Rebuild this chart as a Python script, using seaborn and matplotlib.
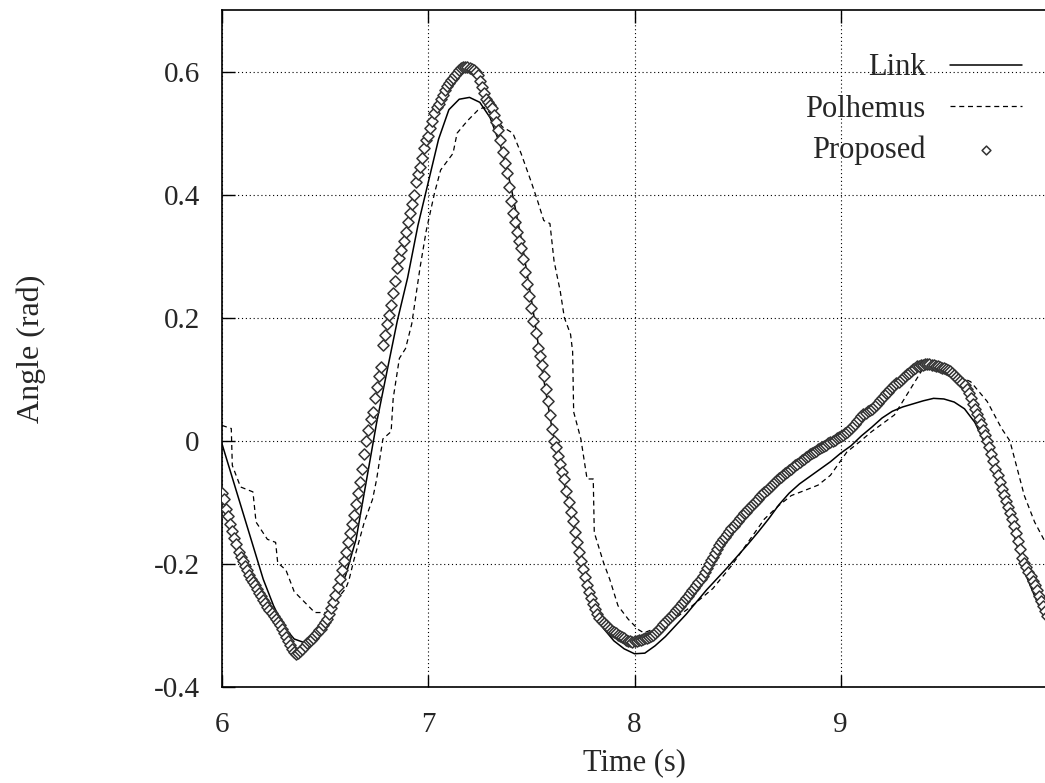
import numpy as np
import pandas as pd
import matplotlib
matplotlib.use("Agg")
import matplotlib.pyplot as plt
import seaborn as sns

# ── Data ─────────────────────────────────────────────────────────────────────
T0 = 6.0

# Link angle, sampled every 0.05 s from 6.00 to 10.00
LINK_DT = 0.05
link_angle = [
    -0.005, -0.06, -0.115, -0.17, -0.225, -0.268, -0.302, -0.322, -0.328, -0.32,
    -0.293, -0.258, -0.218, -0.16, -0.065, 0.03, 0.113, 0.195, 0.265, 0.35,
    0.42, 0.49, 0.538, 0.555, 0.558, 0.55, 0.525, 0.48, 0.415, 0.33,
    0.23, 0.12, 0.02, -0.055, -0.13, -0.205, -0.274, -0.305, -0.325, -0.338,
    -0.346, -0.345, -0.333, -0.318, -0.30, -0.282, -0.262, -0.242, -0.224, -0.206,
    -0.187, -0.168, -0.148, -0.127, -0.104, -0.085, -0.07, -0.058, -0.046, -0.034,
    -0.02, -0.008, 0.008, 0.022, 0.037, 0.048, 0.055, 0.06, 0.065, 0.069,
    0.068, 0.063, 0.052, 0.03, -0.005, -0.045, -0.1, -0.165, -0.22, -0.26,
    -0.295,
]

# Polhemus sensor trace (held values with jumps), vertex by vertex
polhemus_t = [
    6.00, 6.045, 6.05, 6.09, 6.15, 6.165, 6.22, 6.26, 6.27, 6.31,
    6.35, 6.40, 6.45, 6.51, 6.55, 6.60, 6.615, 6.64, 6.69, 6.73,
    6.75, 6.78, 6.82, 6.83, 6.86, 6.89, 6.92, 6.96, 6.99, 7.03,
    7.06, 7.12, 7.14, 7.19, 7.24, 7.27, 7.32, 7.36, 7.41, 7.45,
    7.50, 7.53, 7.56, 7.59, 7.61, 7.64, 7.66, 7.69, 7.70, 7.705,
    7.74, 7.77, 7.80, 7.805, 7.85, 7.88, 7.92, 7.97, 8.02, 8.045,
    8.10, 8.19, 8.28, 8.38, 8.47, 8.55, 8.63, 8.70, 8.76, 8.83,
    8.89, 8.95, 9.03, 9.09, 9.15, 9.26, 9.33, 9.40, 9.46, 9.52,
    9.63, 9.71, 9.78, 9.82, 9.89, 9.94, 10.0,
]
polhemus_angle = [
    0.025, 0.02, -0.04, -0.075, -0.083, -0.132, -0.16, -0.165, -0.198, -0.21,
    -0.245, -0.262, -0.279, -0.279, -0.26, -0.24, -0.227, -0.193, -0.132, -0.095,
    -0.062, 0.003, 0.015, 0.069, 0.134, 0.15, 0.19, 0.281, 0.341, 0.402,
    0.44, 0.467, 0.5, 0.52, 0.537, 0.542, 0.526, 0.51, 0.50, 0.467,
    0.42, 0.39, 0.358, 0.353, 0.292, 0.243, 0.2, 0.173, 0.145, 0.047,
    0.003, -0.062, -0.062, -0.149, -0.198, -0.225, -0.268, -0.29, -0.307, -0.312,
    -0.305, -0.29, -0.268, -0.24, -0.203, -0.165, -0.127, -0.105, -0.089, -0.08,
    -0.072, -0.056, -0.018, -0.002, 0.015, 0.042, 0.08, 0.118, 0.118, 0.113,
    0.096, 0.064, 0.02, 0.0, -0.089, -0.132, -0.17,
]

# Proposed estimate, every 0.01 s from 6.00 to 10.00
PROP_DT = 0.01
proposed_angle = [
    -0.085, -0.095, -0.11, -0.122, -0.135, -0.147, -0.158, -0.168, -0.18, -0.188,
    -0.195, -0.203, -0.21, -0.218, -0.225, -0.23, -0.235, -0.241, -0.247, -0.252,
    -0.258, -0.264, -0.27, -0.275, -0.28, -0.285, -0.29, -0.295, -0.30, -0.306,
    -0.312, -0.318, -0.325, -0.332, -0.338, -0.343, -0.346, -0.345, -0.342, -0.339,
    -0.334, -0.329, -0.325, -0.323, -0.32, -0.316, -0.312, -0.308, -0.305, -0.3,
    -0.295, -0.289, -0.282, -0.272, -0.262, -0.25, -0.238, -0.225, -0.21, -0.195,
    -0.18, -0.165, -0.15, -0.135, -0.12, -0.102, -0.085, -0.067, -0.045, -0.022,
    0.0, 0.018, 0.035, 0.047, 0.07, 0.088, 0.105, 0.12, 0.155, 0.172,
    0.19, 0.205, 0.22, 0.24, 0.26, 0.28, 0.297, 0.31, 0.325, 0.34,
    0.355, 0.37, 0.385, 0.4, 0.42, 0.434, 0.445, 0.46, 0.475, 0.488,
    0.495, 0.508, 0.52, 0.532, 0.542, 0.548, 0.555, 0.562, 0.57, 0.576,
    0.582, 0.586, 0.59, 0.594, 0.598, 0.602, 0.605, 0.607, 0.607, 0.607,
    0.605, 0.604, 0.602, 0.599, 0.595, 0.585, 0.575, 0.565, 0.555, 0.55,
    0.545, 0.54, 0.53, 0.518, 0.505, 0.488, 0.47, 0.452, 0.435, 0.412,
    0.39, 0.37, 0.355, 0.34, 0.325, 0.313, 0.295, 0.275, 0.255, 0.235,
    0.215, 0.194, 0.175, 0.15, 0.138, 0.124, 0.105, 0.085, 0.064, 0.042,
    0.02, 0.0, -0.01, -0.025, -0.038, -0.05, -0.062, -0.082, -0.1, -0.116,
    -0.13, -0.148, -0.165, -0.181, -0.195, -0.209, -0.222, -0.235, -0.245, -0.255,
    -0.265, -0.274, -0.282, -0.288, -0.292, -0.296, -0.3, -0.303, -0.306, -0.309,
    -0.311, -0.313, -0.315, -0.317, -0.319, -0.321, -0.323, -0.325, -0.326, -0.327,
    -0.326, -0.325, -0.324, -0.323, -0.322, -0.321, -0.32, -0.319, -0.317, -0.315,
    -0.312, -0.309, -0.305, -0.302, -0.298, -0.294, -0.29, -0.287, -0.283, -0.279,
    -0.275, -0.272, -0.268, -0.264, -0.26, -0.256, -0.252, -0.248, -0.243, -0.239,
    -0.234, -0.23, -0.225, -0.219, -0.213, -0.207, -0.2, -0.194, -0.188, -0.182,
    -0.176, -0.17, -0.165, -0.16, -0.156, -0.152, -0.147, -0.142, -0.138, -0.134,
    -0.13, -0.126, -0.122, -0.118, -0.115, -0.111, -0.108, -0.104, -0.101, -0.097,
    -0.094, -0.09, -0.087, -0.083, -0.08, -0.076, -0.073, -0.07, -0.067, -0.064,
    -0.061, -0.058, -0.055, -0.052, -0.05, -0.047, -0.045, -0.042, -0.04, -0.037,
    -0.034, -0.031, -0.029, -0.027, -0.025, -0.022, -0.02, -0.018, -0.016, -0.014,
    -0.012, -0.01, -0.008, -0.006, -0.004, -0.002, 0.0, 0.002, 0.004, 0.006,
    0.008, 0.01, 0.013, 0.015, 0.018, 0.021, 0.024, 0.028, 0.032, 0.036,
    0.04, 0.043, 0.046, 0.048, 0.05, 0.052, 0.055, 0.058, 0.062, 0.066,
    0.07, 0.073, 0.077, 0.08, 0.084, 0.088, 0.091, 0.094, 0.096, 0.099,
    0.102, 0.105, 0.108, 0.111, 0.114, 0.117, 0.119, 0.121, 0.122, 0.123,
    0.124, 0.125, 0.125, 0.125, 0.124, 0.123, 0.122, 0.121, 0.12, 0.119,
    0.118, 0.116, 0.115, 0.113, 0.11, 0.107, 0.104, 0.1, 0.097, 0.094,
    0.09, 0.084, 0.077, 0.069, 0.06, 0.052, 0.043, 0.035, 0.027, 0.018,
    0.01, 0.0, -0.01, -0.021, -0.033, -0.045, -0.056, -0.067, -0.078, -0.088,
    -0.098, -0.108, -0.117, -0.127, -0.138, -0.15, -0.162, -0.176, -0.19, -0.198,
    -0.205, -0.213, -0.22, -0.228, -0.235, -0.243, -0.252, -0.26, -0.268, -0.276,
    -0.284,
]

XTICKS = [6, 7, 8, 9]
YTICKS = [-0.4, -0.2, 0.0, 0.2, 0.4, 0.6]
YTICK_LABELS = ["-0.4", "-0.2", "0", "0.2", "0.4", "0.6"]


def series(values, dt):
    return pd.DataFrame({"t": T0 + dt * np.arange(len(values)), "angle": values})


link = series(link_angle, LINK_DT)
pol = pd.DataFrame({"t": polhemus_t, "angle": polhemus_angle})
prop = series(proposed_angle, PROP_DT)

# ── Style ────────────────────────────────────────────────────────────────────
sns.set_style("ticks")
plt.rcParams["font.family"] = ["Liberation Serif", "DejaVu Serif"]
plt.rcParams["font.size"] = 21

fig = plt.figure(figsize=(10.45, 7.83), dpi=100)
ax = fig.add_axes([222 / 1045, 96 / 783, 825 / 1045, 677 / 783])

sns.lineplot(data=link, x="t", y="angle", ax=ax, color="black", lw=1.1,
             sort=False, estimator=None, label="Link")
sns.lineplot(data=pol, x="t", y="angle", ax=ax, color="black", lw=0.9,
             sort=False, estimator=None, linestyle=(0, (4, 3)),
             label="Polhemus")
sns.scatterplot(data=prop, x="t", y="angle", ax=ax, marker="D", s=32,
                facecolor="white", edgecolor="#333333", linewidth=1.1,
                label="Proposed", zorder=3)

ax.set_xlim(6, 10)
ax.set_ylim(-0.4, 0.7)
ax.set_xticks(XTICKS)
ax.set_yticks(YTICKS)
ax.set_yticklabels(YTICK_LABELS)
ax.tick_params(direction="in", length=9, width=1.0, color="black",
               top=True, right=False, labelsize=21)
ax.tick_params(axis="y", pad=16)
ax.tick_params(axis="x", pad=18)
ax.grid(True, color="black", linestyle=(0, (1, 2.5)), linewidth=0.8)

for side in ["left", "bottom", "top", "right"]:
    ax.spines[side].set_color("black")
    ax.spines[side].set_linewidth(1.2)

ax.set_xlabel("Time (s)", fontsize=22)
ax.set_ylabel("Angle (rad)", fontsize=23)
ax.xaxis.set_label_coords(0.5, -0.09)
ax.yaxis.set_label_coords(-0.213, 0.5)

h, l = ax.get_legend_handles_labels()
leg = ax.legend(h, l, loc="upper right", bbox_to_anchor=(0.97, 0.936),
                frameon=False, markerfirst=False, fontsize=22,
                handlelength=2.36, handletextpad=0.8, labelspacing=0.4,
                borderpad=0, borderaxespad=0)
leg.legend_handles[2].set_sizes([20])

fig.savefig("out.png", dpi=100)
